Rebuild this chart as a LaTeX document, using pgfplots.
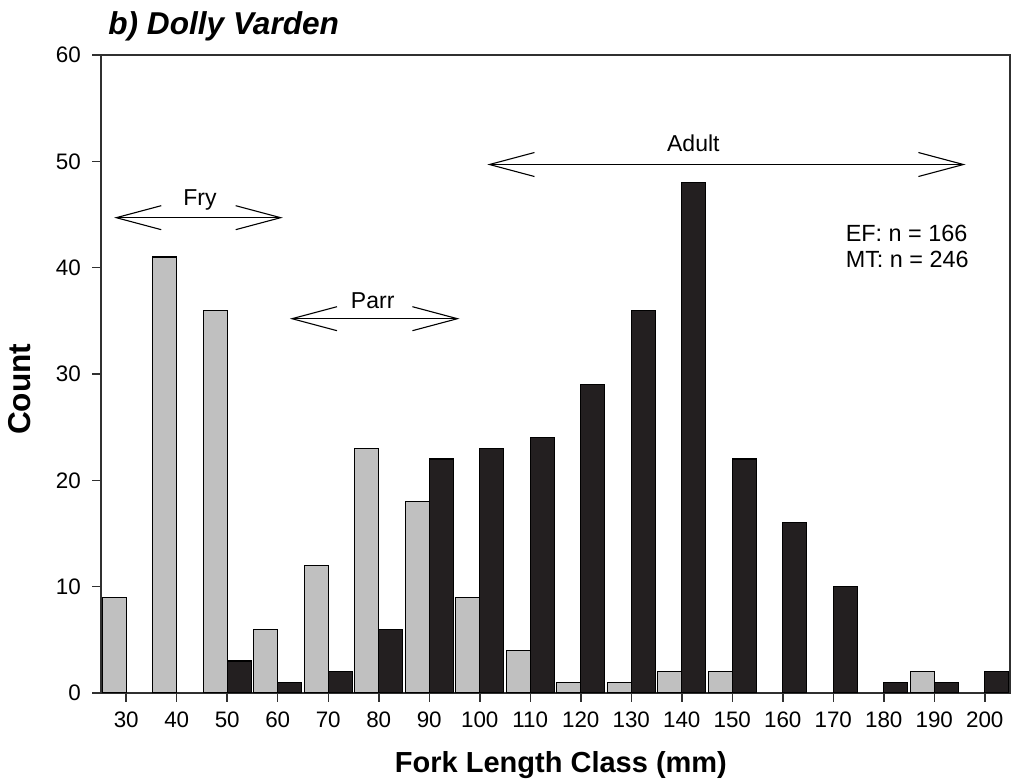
\documentclass[border=0pt]{standalone}
\usepackage{fontspec}
\setmainfont{Liberation Sans}
\usepackage{pgfplots}
\pgfplotsset{compat=1.18}
\usetikzlibrary{arrows.meta}
\definecolor{efgrey}{HTML}{C0C0C0}
\definecolor{mtblack}{HTML}{231F20}
\definecolor{axgrey}{HTML}{303030}
\begin{document}
\begin{tikzpicture}
\begin{axis}[name=ax, width=454.5pt, height=319pt, scale only axis,
  xmin=-0.5, xmax=17.5, ymin=0, ymax=60,
  xtick={0,...,17},
  xticklabels={30,40,50,60,70,80,90,100,110,120,130,140,150,160,170,180,190,200},
  ytick={0,10,...,60},
  tick align=outside, xtick pos=left, ytick pos=left,
  major tick length=4.3pt,
  axis line style={axgrey, line width=0.75pt},
  tick style={axgrey, line width=0.75pt},
  ticklabel style={font=\fontsize{11.2}{13}\selectfont},
  xticklabel style={yshift=-1.7pt},
  yticklabel style={xshift=-2.3pt},
  /pgf/number format/assume math mode=true,
  every axis title shift=0pt,
  title={b) Dolly Varden},
  title style={at={(axis description cs:0.0077,1.032)}, anchor=base west, yshift=0pt, inner sep=0pt, font=\fontsize{15.8}{18}\selectfont\bfseries\itshape},
  xlabel={Fork Length Class (mm)},
  xlabel style={at={(axis description cs:0.506,-0.113)}, anchor=center, font=\fontsize{14.5}{17}\selectfont\bfseries},
  ylabel={Count},
  ylabel style={at={(axis description cs:-0.089,0.476)}, anchor=center, font=\fontsize{15.8}{18}\selectfont\bfseries},
]
% EF (grey)
\addplot[ybar, bar width=0.474, bar shift=-0.237, fill=efgrey, draw=black, line width=0.6pt]
  coordinates {(0,9) (1,41) (2,36) (3,6) (4,12) (5,23) (6,18) (7,9) (8,4) (9,1) (10,1) (11,2) (12,2) (16,2)};
% MT (black)
\addplot[ybar, bar width=0.474, bar shift=0.237, fill=mtblack, draw=black, line width=0.6pt]
  coordinates {(2,3) (3,1) (4,2) (5,6) (6,22) (7,23) (8,24) (9,29) (10,36) (11,48) (12,22) (13,16) (14,10) (15,1) (16,1) (17,2)};
% stage annotations
\draw[line width=0.55pt, {Straight Barb[length=22.5pt,width=12pt]}-{Straight Barb[length=22.5pt,width=12pt]}]
  (axis cs:-0.24,44.7) -- (axis cs:3.10,44.7);
\node[anchor=base, font=\fontsize{11.5}{13}\selectfont] at (axis cs:1.46,45.8) {Fry};
\draw[line width=0.55pt, {Straight Barb[length=22.5pt,width=12pt]}-{Straight Barb[length=22.5pt,width=12pt]}]
  (axis cs:3.24,35.2) -- (axis cs:6.60,35.2);
\node[anchor=base, font=\fontsize{11.5}{13}\selectfont] at (axis cs:4.88,36.2) {Parr};
\draw[line width=0.55pt, {Straight Barb[length=22.5pt,width=12pt]}-{Straight Barb[length=22.5pt,width=12pt]}]
  (axis cs:7.15,49.7) -- (axis cs:16.62,49.7);
\node[anchor=base, font=\fontsize{11.5}{13}\selectfont] at (axis cs:11.23,50.9) {Adult};
\node[anchor=base west, font=\fontsize{11.7}{13}\selectfont, inner sep=0pt] at (axis cs:14.24,42.5) {EF: n = 166};
\node[anchor=base west, font=\fontsize{11.7}{13}\selectfont, inner sep=0pt] at (axis cs:14.24,40.0) {MT: n = 246};
\end{axis}
\pgfresetboundingbox
\path[use as bounding box] ([shift={(-50.5pt,-43pt)}]ax.south west) rectangle ([shift={(1.5pt,27.5pt)}]ax.north east);
\end{tikzpicture}
\end{document}
